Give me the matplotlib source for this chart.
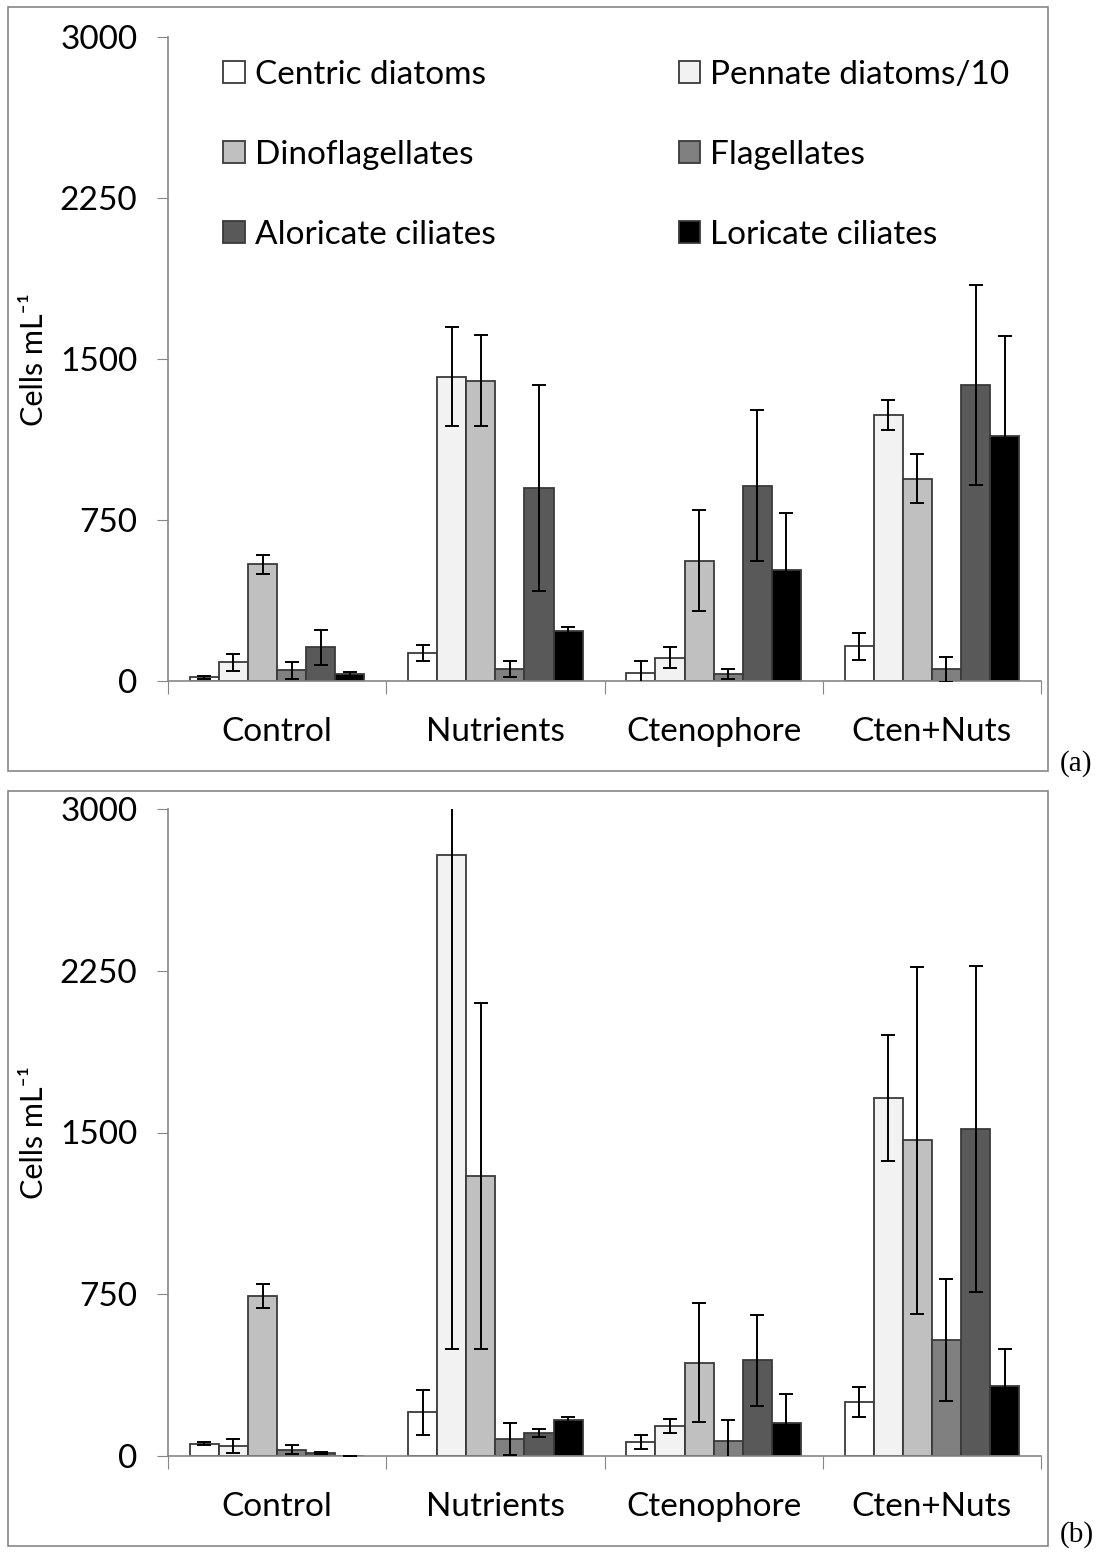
import matplotlib
matplotlib.use("Agg")
import matplotlib.pyplot as plt
from matplotlib.patches import Rectangle
import numpy as np

plt.rcParams['font.family'] = ['Lato', 'DejaVu Sans']

groups = ['Control', 'Nutrients', 'Ctenophore', 'Cten+Nuts']
taxa = ['Centric diatoms', 'Pennate diatoms/10', 'Dinoflagellates',
        'Flagellates', 'Aloricate ciliates', 'Loricate ciliates']
colors = ['#ffffff', '#f2f2f2', '#c0c0c0', '#808080', '#595959', '#000000']

# panel (a): rows = taxa, cols = groups
means_a = [
    [17, 129, 39, 162],
    [87, 1418, 109, 1239],
    [543, 1398, 561, 943],
    [50, 55, 33, 55],
    [157, 900, 910, 1379],
    [33, 233, 517, 1143],
]
err_a = [
    [6, 37, 53, 63],
    [40, 230, 50, 71],
    [46, 212, 237, 115],
    [40, 36, 22, 58],
    [82, 480, 352, 467],
    [10, 20, 264, 463],
]

# panel (b)
means_b = [
    [57, 203, 64, 251],
    [48, 2789, 139, 1659],
    [741, 1297, 433, 1463],
    [30, 79, 68, 537],
    [14, 107, 444, 1517],
    [2, 166, 155, 323],
]
err_b = [
    [7, 105, 32, 69],
    [32, 2294, 31, 292],
    [55, 803, 275, 803],
    [23, 74, 98, 284],
    [5, 20, 212, 756],
    [0, 15, 133, 175],
]

W, H = 1106, 1554
fig = plt.figure(figsize=(W / 100, H / 100), dpi=100)

# panel frames
for (x0, y0, x1, y1) in [(8, 7, 1048, 771), (8, 791, 1048, 1546)]:
    fig.add_artist(Rectangle((x0 / W, 1 - y1 / H), (x1 - x0) / W, (y1 - y0) / H,
                             transform=fig.transFigure, fill=False,
                             edgecolor='#868686', lw=1.2))

ax_a = fig.add_axes([168 / W, 1 - 681 / H, 873 / W, 644 / H])
ax_b = fig.add_axes([168 / W, 1 - 1456 / H, 873 / W, 647 / H])

bw = 0.8 / 6
gx = np.arange(len(groups))
axis_grey = '#868686'


def draw(ax, means, errs):
    for i in range(len(taxa)):
        x = gx + 0.1 + bw / 2 + i * bw
        ax.bar(x, means[i], width=bw, color=colors[i], edgecolor='#3a3a3a',
               linewidth=1.3, label=taxa[i], zorder=2)
        ax.errorbar(x, means[i], yerr=errs[i], fmt='none', ecolor='black',
                    elinewidth=1.4, capsize=5, capthick=1.4, zorder=3)
    ax.set_xlim(0, 4)
    ax.set_ylim(0, 3000)
    ax.set_yticks([0, 750, 1500, 2250, 3000])
    ax.tick_params(axis='y', direction='out', length=8, color=axis_grey,
                   labelsize=24, pad=14)
    ax.set_xticks(np.arange(5))
    ax.set_xticklabels([])
    ax.tick_params(axis='x', which='major', direction='out', length=9,
                   color=axis_grey)
    ax.set_xticks(gx + 0.5, minor=True)
    ax.set_xticklabels(groups, minor=True)
    ax.tick_params(axis='x', which='minor', length=0, labelsize=24, pad=26)
    for s in ['top', 'right']:
        ax.spines[s].set_visible(False)
    for s in ['left', 'bottom']:
        ax.spines[s].set_color(axis_grey)
        ax.spines[s].set_linewidth(1.2)
    ax.set_ylabel('Cells mL\u207b\u00b9', fontsize=22)
    ax.yaxis.set_label_coords(-120 / 873, 0.5)


draw(ax_a, means_a, err_a)
draw(ax_b, means_b, err_b)

# row-major legend order (two columns)
handles, labels = ax_a.get_legend_handles_labels()
order = [0, 2, 4, 1, 3, 5]
ax_a.legend([handles[k] for k in order], [labels[k] for k in order],
            ncol=2, frameon=False, fontsize=24, loc='upper left',
            bbox_to_anchor=(0.04, 0.996), handlelength=0.65, handleheight=0.65,
            handletextpad=0.3, labelspacing=1.5, columnspacing=5.5,
            borderaxespad=0.2)

fig.text(1060 / W, 1 - 764 / H, '(a)', family='Liberation Serif', fontsize=21,
         va='center', ha='left')
fig.text(1060 / W, 1 - 1535 / H, '(b)', family='Liberation Serif', fontsize=21,
         va='center', ha='left')

fig.savefig('out.png', dpi=100)
